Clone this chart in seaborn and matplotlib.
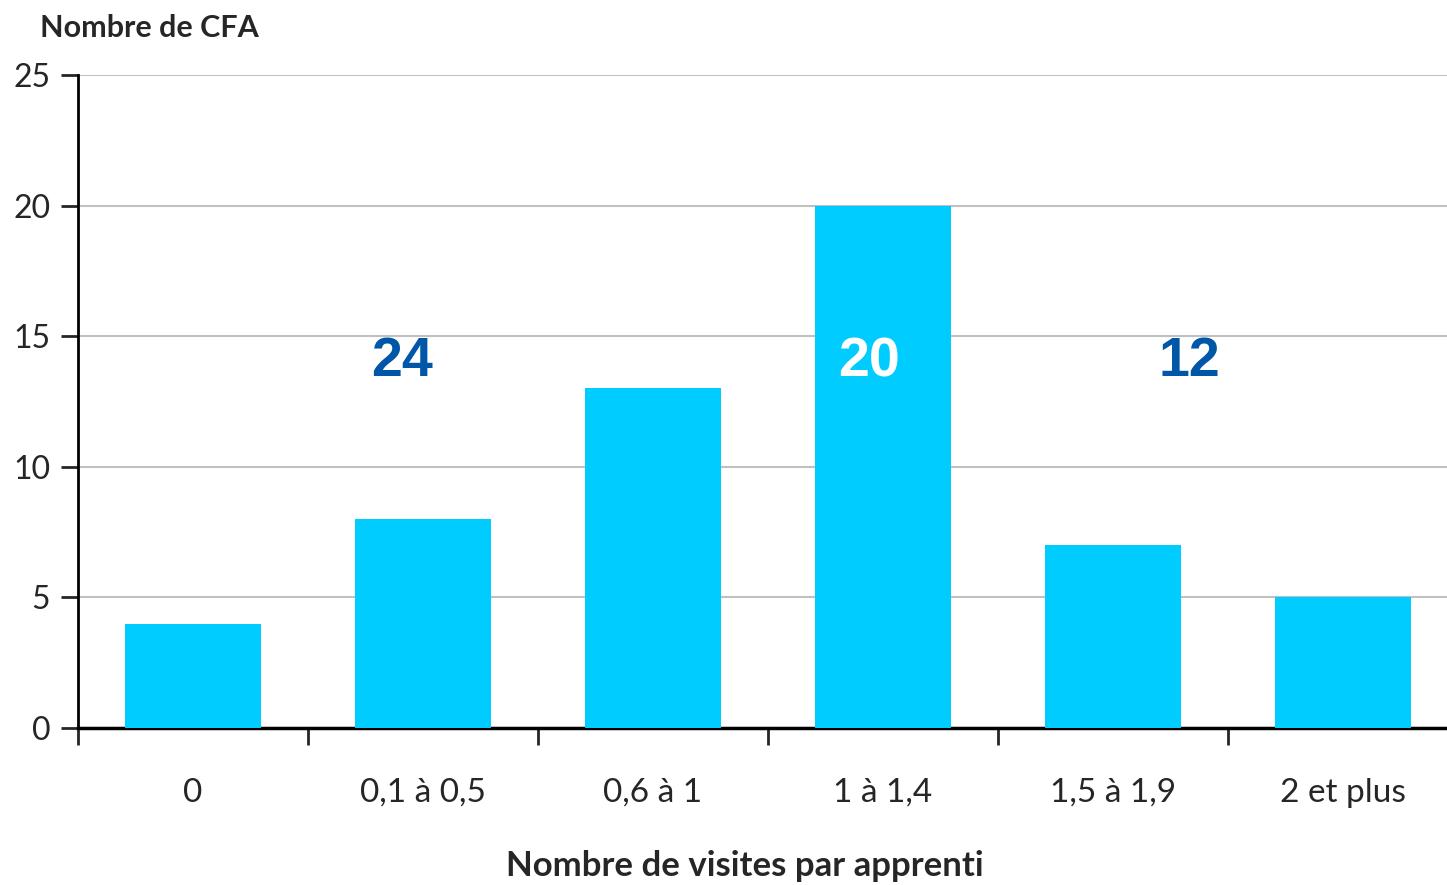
import matplotlib
matplotlib.use("Agg")
import matplotlib.pyplot as plt
import seaborn as sns
import pandas as pd
import numpy as np

# data
categories = ["0", "0,1 à 0,5", "0,6 à 1", "1 à 1,4", "1,5 à 1,9", "2 et plus"]
nb_cfa = [4, 8, 13, 20, 7, 5]

# group totals written over the bars
group_labels = ["24", "20", "12"]
group_x = [0.91, 2.94, 4.33]
group_y = [14.0, 14.0, 14.0]
group_colors = ["#0057A8", "white", "#0057A8"]

df = pd.DataFrame({"classe": categories, "cfa": nb_cfa})

sns.set_style("white")
plt.rcParams["font.family"] = ["Lato", "DejaVu Sans"]

fig = plt.figure(figsize=(14.47, 8.85), dpi=100)
ax = fig.add_axes([78 / 1447, 1 - 728 / 885, 1380 / 1447, (728 - 75) / 885])

sns.barplot(data=df, x="classe", y="cfa", color="#00CCFF", saturation=1,
            width=0.59, linewidth=0, ax=ax, zorder=3)

ax.set_xlim(-0.5, 5.5)
ax.set_ylim(0, 25)
ax.set_yticks([0, 5, 10, 15, 20, 25])
ax.yaxis.grid(True, color="#C0C0C0", linewidth=1.5, zorder=0)
ax.set_axisbelow(True)

for side in ["top", "right"]:
    ax.spines[side].set_visible(False)
ax.spines["left"].set_color("black")
ax.spines["left"].set_linewidth(2)
ax.spines["bottom"].set_color("black")
ax.spines["bottom"].set_linewidth(2.5)

ax.tick_params(axis="y", which="major", length=12, width=2, direction="out",
               labelsize=23, pad=8, left=True)
ax.tick_params(axis="x", which="major", length=0, labelsize=24, pad=36)
ax.set_xticks(np.arange(-0.5, 5.6, 1), minor=True)
ax.tick_params(axis="x", which="minor", length=12, width=2, direction="out", bottom=True)

ax.set_xlabel("")
ax.set_ylabel("")
fig.text(745 / 1447, 1 - 866 / 885, "Nombre de visites par apprenti", fontsize=25,
         fontweight="bold", ha="center", va="center")
fig.text(40 / 1447, 1 - 28 / 885, "Nombre de CFA", fontsize=22, fontweight="bold",
         va="center", ha="left")

for lab, x, y, c in zip(group_labels, group_x, group_y, group_colors):
    ax.text(x, y, lab, ha="center", va="center", fontsize=40, fontweight="bold",
            color=c, family=["Liberation Sans", "DejaVu Sans"], zorder=5)

fig.savefig("out.png", dpi=100)
